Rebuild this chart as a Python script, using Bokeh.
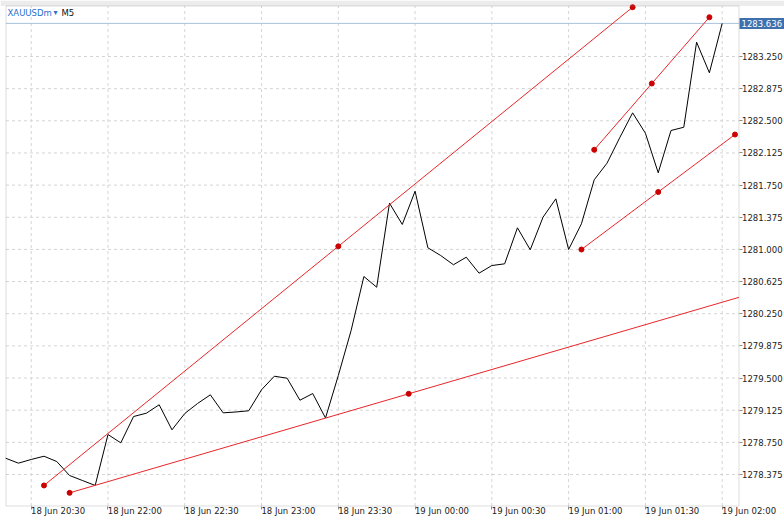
from bokeh.plotting import figure
from bokeh.models import FixedTicker, Range1d, Label, BoxAnnotation
from bokeh.embed import file_html
from bokeh.resources import INLINE

# ---- data ----
bar_index = list(range(-2, 55))
close = [1278.565, 1278.507, 1278.550, 1278.588, 1278.526, 1278.363, 1278.305, 1278.247,
         1278.841, 1278.744, 1279.051, 1279.090, 1279.188, 1278.896, 1279.086, 1279.203,
         1279.304, 1279.094, 1279.104, 1279.118, 1279.363, 1279.521, 1279.498, 1279.241,
         1279.319, 1279.034, 1279.529, 1280.054, 1280.684, 1280.559, 1281.539, 1281.291,
         1281.679, 1281.019, 1280.929, 1280.821, 1280.909, 1280.723, 1280.812, 1280.832,
         1281.252, 1280.996, 1281.376, 1281.590, 1280.999, 1281.299, 1281.812, 1282.006,
         1282.305, 1282.593, 1282.355, 1281.894, 1282.387, 1282.425, 1283.417, 1283.060,
         1283.636]

# trend lines (bar index / price of both anchor points)
trend_x0 = [1, 3, 44, 43]
trend_y0 = [1278.247, 1278.161, 1282.162, 1280.999]
trend_x1 = [47, 56, 53, 55]
trend_y1 = [1283.825, 1280.471, 1283.708, 1282.340]

current_price = 1283.636
symbol = "XAUUSDm"
timeframe = "M5"

time_tick_idx = [0, 6, 12, 18, 24, 30, 36, 42, 48, 54]
time_tick_labels = ["18 Jun 20:30", "18 Jun 22:00", "18 Jun 22:30", "18 Jun 23:00",
                    "18 Jun 23:30", "19 Jun 00:00", "19 Jun 00:30", "19 Jun 01:00",
                    "19 Jun 01:30", "19 Jun 02:00"]
price_ticks = [1278.375, 1278.750, 1279.125, 1279.500, 1279.875, 1280.250, 1280.625,
               1281.000, 1281.375, 1281.750, 1282.125, 1282.500, 1282.875, 1283.250]

# ---- layout (canvas pixels) ----
W, H = 784, 516
BAR0_PX, BAR_PX = 30.7, 12.796          # pixel of bar 0, pixels per bar
REF_PRICE, REF_PX, PRICE_PX = 1283.25, 56.0, 85.74
def px_to_x(px):
    return (px - BAR0_PX) / BAR_PX
def py_to_y(py):
    return REF_PRICE - (py - REF_PX) / PRICE_PX

x_left, x_right = px_to_x(5.5), px_to_x(738.5)     # chart border
y_top, y_bot = py_to_y(5.5), py_to_y(505.5)

FONT = "DejaVu Sans"
FS = "8.5px"
GRAY = "#8c8c8c"

p = figure(width=W, height=H, output_backend="svg", toolbar_location=None, title=None,
           x_range=Range1d(px_to_x(0), px_to_x(W)), y_range=Range1d(py_to_y(H), py_to_y(0)),
           y_axis_location="right", min_border_left=0, min_border_top=0,
           min_border_right=0, min_border_bottom=0)
p.background_fill_color = "white"
p.border_fill_color = "white"
p.outline_line_color = None
p.xgrid.visible = False
p.ygrid.visible = False

# top band
p.add_layout(BoxAnnotation(bottom=y_top, fill_color="#ececec", fill_alpha=1,
                           line_color=None, level="underlay"))

# dashed grid, limited to the chart area
n = len(time_tick_idx)
p.segment(x0=time_tick_idx, y0=[y_bot] * n, x1=time_tick_idx, y1=[y_top] * n,
          line_color="#d4d4d4", line_dash="3 3", line_width=1)
m = len(price_ticks)
p.segment(x0=[x_left] * m, y0=price_ticks, x1=[x_right] * m, y1=price_ticks,
          line_color="#d4d4d4", line_dash="3 3", line_width=1)

# chart border
p.add_layout(BoxAnnotation(left=x_left, right=x_right, bottom=y_bot, top=y_top,
                           fill_color=None, line_color=GRAY, line_width=1))

# x axis: labels left-aligned after tick mark -> shift label positions
offset = 2.1
label_pos = [t + offset for t in time_tick_idx]
xa = p.xaxis[0]
xa.fixed_location = y_bot
xa.ticker = FixedTicker(ticks=label_pos, minor_ticks=time_tick_idx)
xa.major_label_overrides = {pos: lab for pos, lab in zip(label_pos, time_tick_labels)}
xa.major_tick_line_color = None
xa.major_tick_in = 0
xa.major_tick_out = 0
xa.minor_tick_line_color = GRAY
xa.minor_tick_in = 0
xa.minor_tick_out = 3
xa.axis_line_color = None
xa.major_label_standoff = -3
xa.major_label_text_font = FONT
xa.major_label_text_font_size = FS
xa.major_label_text_color = "#222222"

# y axis (right)
ya = p.yaxis[0]
ya.fixed_location = x_right
ya.bounds = (y_bot, y_top)
ya.ticker = FixedTicker(ticks=price_ticks)
ya.major_label_overrides = {v: f"{v:.3f}" for v in price_ticks}
ya.major_tick_in = 0
ya.major_tick_out = 3
ya.major_tick_line_color = GRAY
ya.minor_tick_line_color = None
ya.axis_line_color = None
ya.major_label_standoff = 0
ya.major_label_text_font = FONT
ya.major_label_text_font_size = FS
ya.major_label_text_color = "#222222"

# current price line
p.segment(x0=[x_left], y0=[current_price], x1=[x_right], y1=[current_price],
          line_color="#a8c2de", line_width=1)

# price line
p.line(bar_index, close, line_color="black", line_width=1)

# trend lines with anchor dots (start, middle, end); cut at the chart border
sx0, sy0, sx1, sy1, dot_x, dot_y = [], [], [], [], [], []
for a, b, c, d in zip(trend_x0, trend_y0, trend_x1, trend_y1):
    ex, ey = c, d
    if c > x_right:
        ex = x_right
        ey = b + (d - b) * (x_right - a) / (c - a)
    sx0.append(a); sy0.append(b); sx1.append(ex); sy1.append(ey)
    for xx, yy in ((a, b), ((a + c) / 2, (b + d) / 2), (c, d)):
        if xx <= x_right:
            dot_x.append(xx); dot_y.append(yy)
p.segment(x0=sx0, y0=sy0, x1=sx1, y1=sy1, line_color="#e8262a", line_width=1)
p.scatter(dot_x, dot_y, size=5, fill_color="#cc0000", line_color="#cc0000")

# symbol label
title_y = py_to_y(12)
p.add_layout(Label(x=7, x_units="screen", y=title_y, text=symbol,
                   text_font=FONT, text_font_size=FS, text_color="#2a6fd0",
                   text_baseline="middle"))
p.add_layout(Label(x=53, x_units="screen", y=title_y, text="\u25be",
                   text_font=FONT, text_font_size="8px", text_color="#2a6fd0",
                   text_baseline="middle"))
p.add_layout(Label(x=61, x_units="screen", y=title_y, text=timeframe,
                   text_font=FONT, text_font_size=FS, text_color="#111111",
                   text_baseline="middle"))

# current price tag on axis
p.add_layout(Label(x=739, x_units="screen", y=current_price, text=f"{current_price:.3f}",
                   text_font=FONT, text_font_size=FS, text_color="white",
                   text_baseline="middle", text_align="left",
                   background_fill_color="#3e70ad", padding=2))

open("out.html", "w").write(file_html(p, INLINE))
